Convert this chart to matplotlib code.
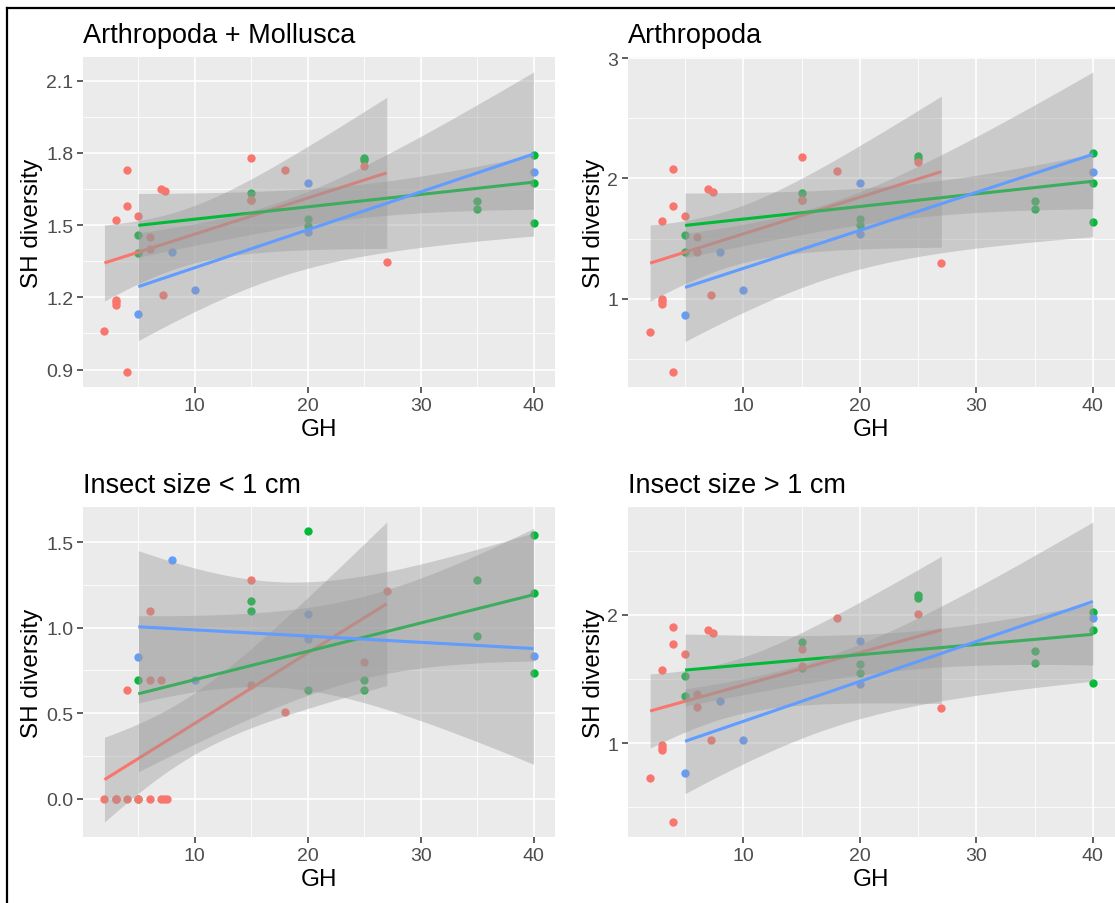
import numpy as np
import matplotlib.pyplot as plt
from matplotlib.lines import Line2D

plt.rcParams['font.family'] = ['Liberation Sans', 'DejaVu Sans']

# GH values of the three groups
red_gh = [2, 3, 3, 3, 3, 4, 4, 4, 5, 6, 6, 7, 7.4, 7.2, 15, 15, 18, 25, 27]
red_gh_small = [2, 3, 3, 3, 4, 4, 5, 6, 6, 6, 7, 7, 7.25, 7.5, 15, 15, 18, 25, 27]
green_gh = [5, 5, 15, 15, 20, 20, 25, 25, 35, 35, 40, 40, 40]
blue_gh = [5, 8, 10, 20, 20, 40]

# SH diversity, Arthropoda + Mollusca
am_red = [1.06, 1.52, 1.19, 1.18, 1.17, 1.73, 1.58, 0.89, 1.54, 1.45, 1.40,
          1.65, 1.64, 1.21, 1.78, 1.605, 1.727, 1.744, 1.345]
am_green = [1.461, 1.386, 1.632, 1.605, 1.525, 1.498, 1.778, 1.77, 1.60, 1.566,
            1.79, 1.676, 1.509]
am_blue = [1.129, 1.389, 1.231, 1.676, 1.47, 1.721]

# SH diversity, Arthropoda
ar_red = [0.725, 1.647, 1.0, 0.98, 0.953, 2.076, 1.77, 0.389, 1.69, 1.51, 1.39,
          1.916, 1.889, 1.033, 2.177, 1.82, 2.065, 2.136, 1.297]
ar_green = [1.531, 1.385, 1.875, 1.82, 1.66, 1.61, 2.183, 2.165, 1.812, 1.743,
            2.208, 1.963, 1.641]
ar_blue = [0.862, 1.385, 1.069, 1.963, 1.536, 2.054]

# SH diversity, insects < 1 cm
sm_red = [0, 0, 0, 0, 0, 0.638, 0, 0, 1.099, 0.692, 0, 0.692, 0, 0,
          1.277, 0.663, 0.504, 0.798, 1.215]
sm_green = [0.692, 0.0, 1.153, 1.099, 1.564, 0.638, 0.696, 0.638, 1.277, 0.953,
            1.539, 1.205, 0.736]
sm_blue = [0.828, 1.393, 0.692, 1.08, 0.934, 0.837]

# SH diversity, insects > 1 cm
lg_red = [0.724, 1.57, 0.987, 0.964, 0.943, 1.902, 1.773, 0.384, 1.691, 1.381, 1.284,
          1.884, 1.858, 1.021, 1.737, 1.60, 1.974, 2.008, 1.271]
lg_green = [1.523, 1.369, 1.786, 1.582, 1.619, 1.549, 2.155, 2.134, 1.716, 1.626,
            2.02, 1.884, 1.472]
lg_blue = [0.768, 1.33, 1.021, 1.799, 1.459, 1.979]

titles = ['Arthropoda + Mollusca', 'Arthropoda', 'Insect size < 1 cm', 'Insect size > 1 cm']
x_ticks = [10, 20, 30, 40]
y_ticks = [[0.9, 1.2, 1.5, 1.8, 2.1], [1, 2, 3], [0.0, 0.5, 1.0, 1.5], [1, 2]]
y_labels = [['0.9', '1.2', '1.5', '1.8', '2.1'], ['1', '2', '3'],
            ['0.0', '0.5', '1.0', '1.5'], ['1', '2']]

panels = [
    [(red_gh, am_red), (green_gh, am_green), (blue_gh, am_blue)],
    [(red_gh, ar_red), (green_gh, ar_green), (blue_gh, ar_blue)],
    [(red_gh_small, sm_red), (green_gh, sm_green), (blue_gh, sm_blue)],
    [(red_gh, lg_red), (green_gh, lg_green), (blue_gh, lg_blue)],
]
colors = ['#F8766D', '#00BA38', '#619CFF']

# two-sided 95% t quantiles by degrees of freedom
T975 = {1: 12.706, 2: 4.303, 3: 3.182, 4: 2.776, 5: 2.571, 6: 2.447, 7: 2.365,
        8: 2.306, 9: 2.262, 10: 2.228, 11: 2.201, 12: 2.179, 13: 2.160, 14: 2.145,
        15: 2.131, 16: 2.120, 17: 2.110, 18: 2.101, 19: 2.093, 20: 2.086}


def lm_band(x, y, n_pts=80):
    # straight-line fit with 95% confidence band, like geom_smooth(method="lm")
    x = np.asarray(x, float)
    y = np.asarray(y, float)
    n = len(x)
    b1, b0 = np.polyfit(x, y, 1)
    xs = np.linspace(x.min(), x.max(), n_pts)
    yhat = b0 + b1 * xs
    resid = y - (b0 + b1 * x)
    s = np.sqrt(np.sum(resid ** 2) / (n - 2))
    sxx = np.sum((x - x.mean()) ** 2)
    se = s * np.sqrt(1 / n + (xs - x.mean()) ** 2 / sxx)
    t = T975[n - 2]
    return xs, yhat, yhat - t * se, yhat + t * se


W, H = 1115, 904
fig = plt.figure(figsize=(W / 100, H / 100), dpi=100)

# panel boxes in pixels: left, top, right, bottom
boxes = [(83, 58, 555, 388), (628, 58, 1115, 388),
         (83, 508, 555, 838), (628, 508, 1115, 838)]

for i, (l, t, r, b) in enumerate(boxes):
    ax = fig.add_axes([l / W, 1 - b / H, (r - l) / W, (b - t) / H])
    ax.set_facecolor('#EBEBEB')
    for s in ax.spines.values():
        s.set_visible(False)

    ys_all = []
    xs_all = []
    # points: green, blue, then red on top
    for k in (1, 2, 0):
        gx, gy = panels[i][k]
        ax.scatter(gx, gy, s=36, color=colors[k], linewidths=0, zorder=2)
        ys_all += list(gy)
        xs_all += list(gx)
    z = 3
    for (gx, gy), c in zip(panels[i], colors):
        xs, yh, lo, hi = lm_band(gx, gy)
        ax.fill_between(xs, lo, hi, color='#999999', alpha=0.4, lw=0, zorder=z)
        ax.plot(xs, yh, color=c, lw=2.2, zorder=z + 0.5, solid_capstyle='butt')
        ys_all += list(lo) + list(hi)
        z += 1

    x0, x1 = min(xs_all), max(xs_all)
    y0, y1 = min(ys_all), max(ys_all)

    ax.set_xticks(x_ticks)
    ax.set_xticks([v - 5 for v in x_ticks], minor=True)
    yt = y_ticks[i]
    step = yt[1] - yt[0]
    ax.set_yticks(yt)
    ax.set_yticklabels(y_labels[i])
    ax.set_yticks([yt[0] - step / 2] + [v + step / 2 for v in yt], minor=True)
    ax.set_xlim(x0 - 0.05 * (x1 - x0), x1 + 0.05 * (x1 - x0))
    ax.set_ylim(y0 - 0.05 * (y1 - y0), y1 + 0.05 * (y1 - y0))

    ax.set_axisbelow(True)
    ax.grid(which='major', color='white', lw=1.2)
    ax.grid(which='minor', color='white', lw=0.6)
    ax.tick_params(which='major', length=4, width=1.1, color='#333333',
                   labelcolor='#4D4D4D', labelsize=14, pad=3)
    ax.tick_params(which='minor', length=0)

    ax.set_xlabel('GH', fontsize=17.5, labelpad=3)
    ax.set_ylabel('SH diversity', fontsize=17.5, labelpad=2)
    fig.text(l / W, 1 - (t - 15) / H, titles[i], fontsize=19.5, ha='left', va='baseline')

# screenshot frame on top and left
fig.add_artist(Line2D([7 / W, 7 / W], [0, 1 - 9 / H], color='black', lw=1.6))
fig.add_artist(Line2D([7 / W, 1], [1 - 9 / H, 1 - 9 / H], color='black', lw=1.6))

fig.savefig('out.png', dpi=100)
